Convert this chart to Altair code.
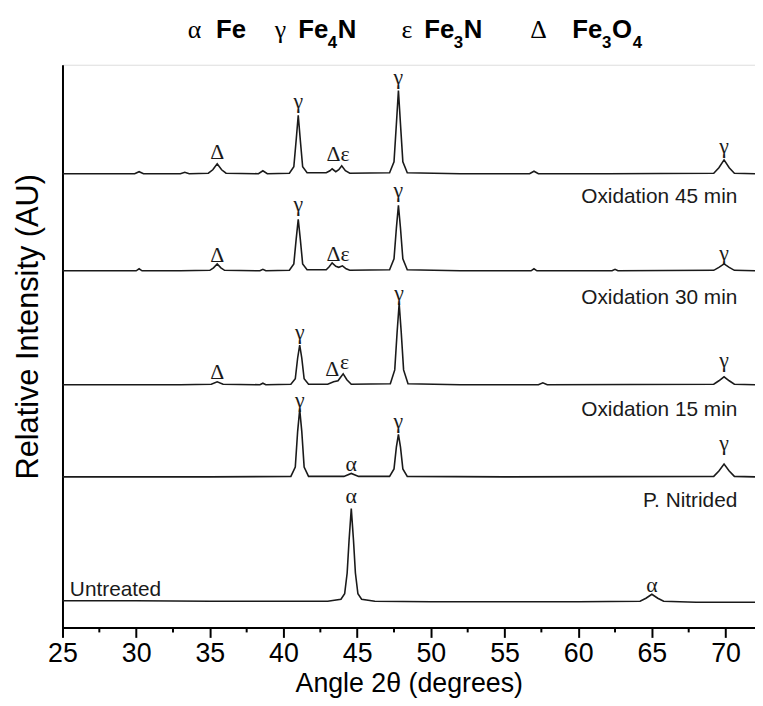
import altair as alt
import pandas as pd

# ---------------- data ----------------
# y values are relative intensity in arbitrary units (stacked patterns)
ox45_x = [25, 27, 29, 29.9, 30.2, 30.5, 32, 33.0, 33.3, 33.6, 34.9, 35.2, 35.5, 35.8, 36.1, 38.3, 38.6, 38.9,
          40.4, 40.7, 40.86, 41.0, 41.14, 41.3, 41.6, 42.9, 43.15, 43.3, 43.55, 43.75, 43.95, 44.2, 44.5,
          47.2, 47.5, 47.66, 47.8, 47.94, 48.1, 48.4, 52, 56.7, 57.0, 57.3, 62, 69.2, 69.55, 69.9, 70.25, 70.6, 72]
ox45_y = [458, 458, 458, 458, 460, 458, 458, 458, 459.5, 458, 458.5, 462, 468, 462, 458.5, 458, 461, 458,
          458.5, 465, 492, 517, 492, 465, 459, 459, 461, 463, 460, 462, 466, 461, 458.5,
          459, 470, 508, 542, 508, 470, 459, 458, 458, 460.5, 458, 458, 458.5, 464, 472, 464, 458.5, 458]

ox30_x = [25, 30.0, 30.2, 30.4, 33, 35.0, 35.25, 35.5, 35.75, 36.0, 38.4, 38.6, 38.8,
          40.4, 40.7, 40.86, 41.0, 41.14, 41.3, 41.6, 42.9, 43.1, 43.3, 43.55, 43.75, 44.0, 44.25, 44.5,
          47.2, 47.5, 47.66, 47.8, 47.94, 48.1, 48.4, 52, 56.8, 57.0, 57.2, 62.3, 62.5, 62.7,
          69.2, 69.55, 69.9, 70.25, 70.6, 72]
ox30_y = [360, 360, 362, 360, 360, 360.5, 363, 367, 363, 360.5, 360, 361.5, 360,
          360.5, 367, 392, 412, 392, 367, 361, 361, 364, 368, 364.5, 363.5, 365, 362, 360.5,
          361, 372, 403, 426, 403, 372, 361, 360, 360, 362, 360, 360, 361.5, 360,
          360.5, 363.5, 367, 363.5, 360.5, 360]

ox15_x = [25, 33, 35.1, 35.5, 35.9, 38.4, 38.6, 38.8, 40.5, 40.8, 40.96, 41.1, 41.24, 41.4, 41.7,
          43.0, 43.4, 43.7, 43.85, 44.05, 44.3, 44.6, 47.25, 47.55, 47.71, 47.85, 47.99, 48.15, 48.45,
          52, 57.3, 57.6, 57.9, 69.2, 69.55, 69.9, 70.25, 70.6, 72]
ox15_y = [245, 245, 245.5, 248, 245.5, 245, 246.5, 245, 245.5, 251, 272, 285, 272, 251, 245.5,
          245.5, 248, 249, 252, 256, 250, 245.5, 246, 260, 298, 327, 298, 260, 246,
          245, 245, 247, 245, 245.5, 249, 253, 249, 245.5, 245]

pn_x = [25, 35, 40.5, 40.8, 40.96, 41.1, 41.24, 41.4, 41.7, 44.1, 44.6, 45.1,
        47.2, 47.5, 47.66, 47.8, 47.94, 48.1, 48.4, 55, 69.2, 69.55, 69.9, 70.25, 70.6, 72]
pn_y = [152, 152, 152.5, 162, 198, 220, 198, 162, 152.5, 152.5, 155.5, 152.5,
        152.5, 160, 182, 195, 182, 160, 152.5, 152, 152.5, 158, 165, 158, 152.5, 152]

un_x = [25, 30, 35, 40, 43.0, 43.9, 44.15, 44.32, 44.45, 44.6, 44.75, 44.88, 45.05, 45.3, 46.2,
        50, 55, 60, 64.2, 64.6, 65.0, 65.4, 65.8, 68, 72]
un_y = [27, 27, 26.5, 26.5, 26.5, 28.5, 34, 55, 88, 120, 88, 55, 34, 28.5, 26.5,
        26, 26, 26, 26.5, 29.5, 33.5, 29.5, 26.5, 25.5, 25.5]

series_names = ["Oxidation 45 min", "Oxidation 30 min", "Oxidation 15 min", "P. Nitrided", "Untreated"]
series_x = [ox45_x, ox30_x, ox15_x, pn_x, un_x]
series_y = [ox45_y, ox30_y, ox15_y, pn_y, un_y]

# phase symbols above peaks
sym_text = ["Δ", "γ", "Δε", "γ", "γ",
            "Δ", "γ", "Δε", "γ", "γ",
            "Δ", "γ", "Δ", "ε", "γ", "γ",
            "γ", "α", "γ", "γ",
            "α", "α"]
sym_x = [35.5, 41.0, 43.7, 47.8, 69.9,
         35.5, 41.0, 43.7, 47.8, 69.9,
         35.5, 41.1, 43.3, 44.15, 47.85, 69.9,
         41.1, 44.6, 47.8, 69.9,
         44.6, 65.0]
sym_y = [480, 531, 478, 556, 486,
         376, 427, 377, 442, 378,
         258, 298, 261, 268, 338, 270,
         230, 165, 208, 186,
         133, 43]

# sample labels
lab_text = ["Oxidation 45 min", "Oxidation 30 min", "Oxidation 15 min", "P. Nitrided"]
lab_x = [70.8, 70.8, 70.8, 70.8]
lab_y = [434, 333, 219, 128]
untreated_text = ["Untreated"]
untreated_x = [25.5]
untreated_y = [38]

# header legend pieces
head_text = ["α", "Fe", "γ", "Fe", "4", "N", "ε", "Fe", "3", "N", "Δ", "Fe", "3", "O", "4"]
head_x = [33.5, 35.42, 39.4, 41.0, 43.01, 43.69, 48.0, 49.55, 51.56, 52.24, 56.75, 59.6, 61.62, 62.29, 63.7]
head_kind = ["g", "m", "g", "m", "s", "m", "g", "m", "s", "m", "g", "m", "s", "m", "s"]

major_ticks = [25, 30, 35, 40, 45, 50, 55, 60, 65, 70]
minor_ticks = [27.5, 32.5, 37.5, 42.5, 47.5, 52.5, 57.5, 62.5, 67.5]

# ---------------- tables ----------------
rows = []
for name, xs_, ys_ in zip(series_names, series_x, series_y):
    for i, (a, b) in enumerate(zip(xs_, ys_)):
        rows.append({"series": name, "i": i, "x": a, "y": b})
lines_df = pd.DataFrame(rows)
sym_df = pd.DataFrame({"t": sym_text, "x": sym_x, "y": sym_y})
lab_df = pd.DataFrame({"t": lab_text, "x": lab_x, "y": lab_y})
un_df = pd.DataFrame({"t": untreated_text, "x": untreated_x, "y": untreated_y})
head_df = pd.DataFrame({"t": head_text, "x": head_x, "kind": head_kind})
minor_df = pd.DataFrame({"x": minor_ticks})

W, H = 699, 568
XD = [25, 72]
YD = [0, 568]
xs = alt.Scale(domain=XD, nice=False, zero=False)
ys = alt.Scale(domain=YD, nice=False, zero=False)
SANS = "Liberation Sans"
SERIF = "Liberation Serif"

lines = alt.Chart(lines_df).mark_line(color="#1a1a1a", strokeWidth=1.6).encode(
    x=alt.X("x:Q", scale=xs, axis=alt.Axis(
        values=major_ticks, title="Angle 2θ (degrees)", format="d",
        tickSize=10, tickWidth=2, domainWidth=2, domainColor="black", tickColor="black",
        labelFontSize=27, labelFont=SANS, labelColor="black", labelPadding=3,
        titleFontSize=27, titleFont=SANS, titleFontWeight="normal", titleColor="black",
        titlePadding=5, grid=False, labelFlush=False)),
    y=alt.Y("y:Q", scale=ys, axis=alt.Axis(
        title="Relative Intensity (AU)", labels=False, ticks=False, grid=False,
        domainWidth=2, domainColor="black",
        titleFontSize=31, titleFont=SANS, titleFontWeight="normal", titleColor="black",
        titlePadding=18, titleY=264)),
    detail="series:N",
    order="i:Q",
)

minor = alt.Chart(minor_df).mark_rule(color="black", strokeWidth=2, clip=False).encode(
    x=alt.X("x:Q", scale=xs),
    y=alt.value(H),
    y2=alt.value(H + 5),
)

labels = alt.Chart(lab_df).mark_text(align="right", baseline="middle", font=SANS, fontSize=21,
                                      color="#1a1a1a").encode(
    x=alt.X("x:Q", scale=xs), y=alt.Y("y:Q", scale=ys), text="t:N")

untreated = alt.Chart(un_df).mark_text(align="left", baseline="middle", font=SANS, fontSize=21,
                                        color="#1a1a1a").encode(
    x=alt.X("x:Q", scale=xs), y=alt.Y("y:Q", scale=ys), text="t:N")

syms = alt.Chart(sym_df).mark_text(align="center", baseline="middle", font=SERIF,
                                    fontSize=22, color="#1a1a1a").encode(
    x=alt.X("x:Q", scale=xs), y=alt.Y("y:Q", scale=ys), text="t:N")

head_g = alt.Chart(head_df).transform_filter(alt.datum.kind == "g").mark_text(
    align="left", baseline="middle", font=SERIF, fontSize=26, color="black").encode(
    x=alt.X("x:Q", scale=xs), y=alt.value(-35), text="t:N")
head_m = alt.Chart(head_df).transform_filter(alt.datum.kind == "m").mark_text(
    align="left", baseline="middle", font=SANS, fontSize=26, fontWeight="bold", color="black").encode(
    x=alt.X("x:Q", scale=xs), y=alt.value(-35), text="t:N")
head_s = alt.Chart(head_df).transform_filter(alt.datum.kind == "s").mark_text(
    align="left", baseline="middle", font=SANS, fontSize=17, fontWeight="bold", color="black").encode(
    x=alt.X("x:Q", scale=xs), y=alt.value(-22), text="t:N")

chart = alt.layer(lines, minor, labels, untreated, syms, head_g, head_m, head_s).properties(
    width=W, height=H,
    autosize=alt.AutoSizeParams(type="none"),
    padding={"left": 55, "top": 54, "right": 0, "bottom": 76},
).configure_view(stroke=None).configure(background="white")

chart.save("out.html", embed_options={"renderer": "svg", "actions": False})
